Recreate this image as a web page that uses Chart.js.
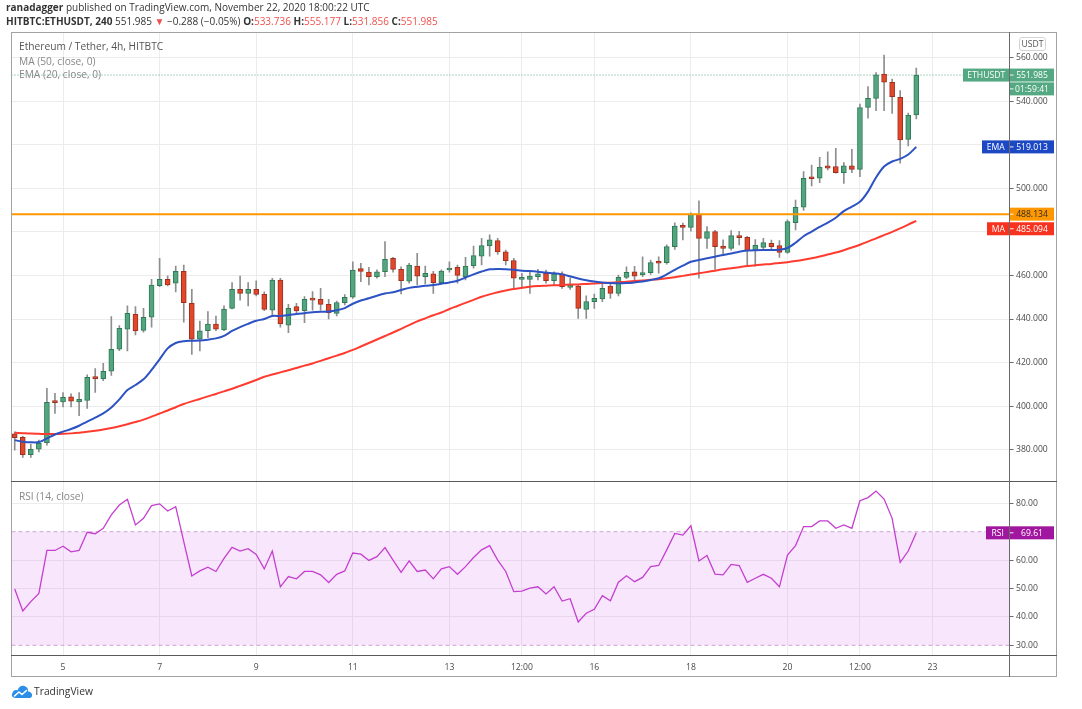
<!DOCTYPE html>
<html><head><meta charset="utf-8">
<script src="https://cdn.jsdelivr.net/npm/chart.js@4.4.1/dist/chart.umd.min.js"></script>
<style>
html,body{margin:0;padding:0;background:#fff;}
body{width:1082px;height:709px;position:relative;overflow:hidden;font-family:"Open Sans",sans-serif;}
.abs{position:absolute;white-space:nowrap;}
#cmain{position:absolute;left:0;top:0;width:1082px;height:482px;}
#crsi{position:absolute;left:0;top:481px;width:1082px;height:228px;}
.hdr{font-size:10px;color:#333;line-height:14px;left:6px;}
.red{color:#f0524f;}
.leg{font-size:10.2px;line-height:14px;left:19px;}
.line{position:absolute;pointer-events:none;}
</style>
</head><body>
<div id="cmain"><canvas id="main"></canvas></div>
<div id="crsi"><canvas id="rsi"></canvas></div>

<div class="line" style="left:11px;top:32px;width:1046px;height:645px;border:1px solid #a2a2a2;box-sizing:border-box;"></div>
<div class="line" style="left:11px;top:481px;width:1046px;height:1px;background:#5a5a5a;"></div>
<div class="line" style="left:11px;top:655px;width:1046px;height:1px;background:#5a5a5a;"></div>
<div class="line" style="left:1009px;top:32px;width:1px;height:645px;background:#6a6a6a;"></div>

<div class="abs hdr" style="top:0px;"><b>ranadagger</b> published on TradingView.com, November 22, 2020 18:00:22 UTC</div>
<div class="abs hdr" id="hdr2" style="top:14px;"></div>

<div class="abs leg" style="top:39px;color:#555;">Ethereum / Tether, 4h, HITBTC</div>
<div class="abs leg" style="top:53.5px;color:#888;">MA (50, close, 0)</div>
<div class="abs leg" style="top:66.5px;color:#888;">EMA (20, close, 0)</div>
<div class="abs leg" style="top:488.5px;color:#888;">RSI (14, close)</div>

<div class="abs" style="left:1019px;top:37px;width:27px;height:14px;border:1px solid #d4d4d4;border-radius:3px;box-sizing:border-box;font-size:8.6px;line-height:12px;color:#555;text-align:center;">USDT</div>

<svg class="abs" style="left:11px;top:684px;" width="22" height="15" viewBox="0 0 22 15">
<path d="M5 14 C1 14 0 11 1.5 9 C2 6.5 4.5 5.5 6.5 6.5 C7.5 3 10.5 1 13.5 2 C16.5 3 17.5 5.5 17 7.5 C20 7.5 21.5 10 21 12 C20.5 13.5 19.5 14 18 14 Z" fill="#2b8fe8"/>
<polyline points="3.5,12 8,8 11,10.5 15.5,6.5" fill="none" stroke="#fff" stroke-width="1.6" stroke-linejoin="round" stroke-linecap="round"/>
</svg>
<div class="abs" style="left:34px;top:684px;font-size:10.3px;line-height:14px;color:#333;">TradingView</div>

<script>
// ---- data ----
const opens  = [387.3,385.7,377.7,380.2,383.2,402.0,401.9,404.3,401.9,402.6,413.5,412.6,416.0,426.1,435.3,442.1,434.8,440.8,455.3,458.2,456.4,461.9,447.2,430.7,434.6,437.7,435.0,444.9,453.6,451.8,453.6,451.3,444.1,457.9,437.2,445.7,443.8,449.5,449.0,446.7,442.6,447.5,450.0,463.1,461.6,459.4,461.7,467.9,462.8,457.4,464.3,459.4,460.7,456.7,462.5,463.7,459.4,464.5,468.9,473.5,476.0,470.8,466.8,458.2,458.2,459.4,461.0,457.6,460.7,454.5,455.1,444.4,448.0,449.2,455.1,451.8,459.1,461.7,460.2,461.3,466.3,465.9,473.2,483.0,482.1,488.2,477.0,480.1,473.5,472.4,478.3,477.5,471.4,472.9,474.7,473.7,470.6,484.2,491.3,504.9,504.6,510.3,510.0,507.2,510.3,508.7,537.1,541.3,552.4,548.7,541.8,522.5,533.736];
const highs  = [388.2,386.2,382.6,384.4,408.2,405.9,406.2,405.6,406.2,414.4,417.2,419.7,441.1,437.0,446.0,445.7,444.9,458.2,467.9,459.8,464.3,464.8,453.6,439.1,443.4,441.4,446.1,456.7,459.7,456.7,457.5,452.5,458.7,458.7,446.7,447.2,450.3,452.6,454.1,449.0,448.2,451.2,466.3,465.6,463.7,462.6,475.5,468.3,464.0,465.6,470.2,464.3,461.9,462.6,466.3,464.8,468.3,473.5,477.0,478.6,477.0,471.7,467.9,461.0,462.2,462.8,462.5,461.7,461.7,458.9,455.6,450.6,451.4,455.9,456.2,460.2,464.0,464.2,468.6,467.1,468.6,474.0,484.2,484.0,488.8,494.3,482.4,480.7,476.3,480.6,480.2,478.0,476.5,477.0,476.2,476.0,485.5,494.6,507.7,510.7,514.2,516.8,518.4,511.8,517.9,538.7,546.7,553.1,561.2,550.2,544.9,534.5,555.177];
const lows   = [379.8,376.5,376.5,379.0,382.1,396.7,399.7,399.7,395.6,399.0,406.3,411.7,414.1,425.5,425.3,432.7,434.0,436.2,454.9,455.2,452.4,438.6,423.8,425.3,431.4,434.6,434.6,444.6,448.7,446.0,450.6,443.8,441.7,436.2,433.7,442.6,438.3,444.1,444.1,440.0,441.4,446.5,449.5,457.1,455.6,458.7,459.4,461.5,451.5,456.4,455.6,456.1,451.8,456.2,461.5,456.4,457.9,463.3,464.8,468.9,469.6,464.8,454.1,454.1,451.8,457.9,456.4,455.6,454.1,453.6,440.3,440.3,444.9,448.0,449.5,450.6,458.5,457.1,459.4,460.5,461.0,465.2,472.0,476.3,480.3,458.7,472.4,462.8,469.4,471.6,474.0,464.5,464.3,471.5,471.4,468.3,470.1,480.9,489.8,501.1,502.6,508.4,506.9,502.3,507.2,505.4,532.2,535.7,535.7,534.4,511.5,519.5,531.856];
const closes = [385.5,377.7,380.2,382.9,401.7,401.6,404.0,402.3,403.1,413.2,412.6,416.0,426.1,435.7,442.6,434.5,440.8,455.6,458.2,455.6,461.9,447.5,430.7,434.6,437.7,435.3,444.6,453.6,451.8,453.6,451.3,444.4,457.9,437.7,444.9,443.7,449.0,448.7,446.7,442.9,447.6,450.0,462.5,461.9,459.4,461.7,467.4,462.8,457.6,464.8,459.7,461.0,456.7,462.0,463.3,460.0,464.3,469.1,473.7,476.3,470.8,466.8,458.7,458.8,459.7,460.7,457.6,460.7,454.8,455.6,444.9,448.0,449.5,454.1,451.8,459.1,461.4,459.7,461.3,465.9,465.6,473.2,482.7,482.1,488.2,477.0,480.1,473.2,472.4,478.3,477.3,471.4,473.8,475.1,473.2,470.6,484.7,491.3,504.6,504.4,509.7,509.3,507.2,510.3,508.7,537.1,541.3,552.1,548.7,542.1,522.2,533.5,551.985];
const ma50   = [387.8,387.6,387.4,387.3,387.2,387.2,387.3,387.5,387.8,388.2,388.7,389.3,390.0,390.8,391.7,392.7,393.8,395.2,396.6,398.0,399.5,401.0,402.2,403.3,404.5,405.6,406.8,408.0,409.3,410.6,412.0,413.5,414.5,415.5,416.5,417.5,418.6,419.6,420.8,422.0,423.2,424.4,425.8,427.4,429.0,430.6,432.2,433.8,435.5,437.2,438.9,440.3,441.7,443.0,444.6,446.0,447.4,448.8,450.2,451.3,452.3,453.1,453.8,454.3,454.8,455.1,455.3,455.5,455.6,455.8,455.9,456.1,456.3,456.5,456.7,456.9,457.1,457.4,457.7,458.0,458.3,458.7,459.2,459.8,460.4,461.0,461.6,462.2,462.8,463.3,463.8,464.3,464.7,465.0,465.3,465.7,466.1,466.6,467.2,467.9,468.7,469.6,470.5,471.6,472.8,474.1,475.5,477.0,478.5,480.0,481.6,483.3,485.094];
const ema20  = [384.4,383.7,383.4,383.5,385.2,387.0,388.3,389.5,391.0,392.9,394.7,396.7,399.4,403.1,407.4,409.7,412.3,416.6,421.5,426.5,429.0,429.8,430.0,430.1,430.5,431.1,432.3,434.5,436.3,437.8,439.2,440.0,441.4,441.4,441.8,442.3,442.7,443.1,443.3,443.4,444.0,445.0,447.0,448.5,449.5,450.7,451.7,452.3,453.3,454.3,454.8,455.3,455.6,456.2,456.8,457.6,459.0,460.5,461.8,462.8,463.0,462.9,462.6,462.2,462.0,461.7,461.3,461.0,460.5,459.6,458.6,457.8,457.2,456.8,456.5,456.4,456.5,456.8,457.2,457.9,458.7,460.5,462.6,464.5,466.3,467.1,467.9,468.6,469.4,470.1,470.9,471.4,471.6,471.7,471.7,471.8,472.6,475.0,478.0,480.1,482.3,484.2,486.5,489.5,491.6,493.8,498.5,505.0,510.0,512.3,513.5,515.5,519.013];
const rsi14  = [49.8,42.1,45.4,48.3,63.4,63.4,64.9,62.9,63.4,69.8,69.3,71.2,75.9,79.4,81.4,72.4,74.7,79.2,79.8,77.3,78.8,66.5,54.4,56.2,57.5,56.0,60.6,64.5,63.2,64.0,62.0,56.9,63.2,50.6,54.2,53.4,56.0,56.0,54.8,52.1,55.0,56.2,62.5,62.1,59.9,61.2,64.4,60.0,55.7,59.7,56.0,56.5,53.4,56.9,57.7,55.0,57.7,60.9,63.6,65.1,60.0,56.0,48.9,49.1,50.1,50.6,48.1,50.6,45.6,46.4,38.2,41.3,42.7,47.5,45.7,52.2,54.5,52.4,53.9,57.7,58.1,63.6,69.4,68.8,72.1,59.7,61.6,55.1,54.8,58.5,58.1,52.2,53.6,55.0,53.6,50.6,61.8,65.1,71.8,71.8,73.8,73.8,71.2,72.4,71.2,80.9,82.0,84.3,81.5,74.7,59.2,63.2,69.61];
const xTickIdx    = [6,18,30,42,54,63,72,84,96,105,114];
const xTickLabels = ['5','7','9','11','13','12:00','16','18','20','12:00','23'];
const priceTicks  = [380,400,420,440,460,480,500,520,540,560];
const rsiTicks    = [30,40,50,60,70,80];
const levelPrice  = 488.134;
const rsiUpper = 70, rsiLower = 30;
const symbol = 'ETHUSDT';
const countdown = '01:59:41';
const changeText = '\u22120.288 (\u22120.05%)';

// ---- derived ----
const N = closes.length, L = N - 1;
const xMin = -0.4, xMax = 123.58;
const FONT = "'Open Sans', sans-serif";
Chart.defaults.font.family = FONT;
const fmt3 = v => v.toFixed(3);

document.getElementById('hdr2').innerHTML =
  '<b>HITBTC:' + symbol + ', 240</b> ' + fmt3(closes[L]) + ' <span class="red">\u25BC</span> ' + changeText +
  ' <b>O:</b><span class="red">' + fmt3(opens[L]) + '</span> <b>H:</b><span class="red">' + fmt3(highs[L]) +
  '</span> <b>L:</b><span class="red">' + fmt3(lows[L]) + '</span> <b>C:</b><span class="red">' + fmt3(closes[L]) + '</span>';

const UP = '#53a57f', UPB = '#2f7a56', DN = '#e0472b', DNB = '#9e2f1c';
const bodies = closes.map((c, i) => ({x: i, y: [opens[i], c]}));
const wicks  = closes.map((c, i) => ({x: i, y: [lows[i], highs[i]]}));
const fills  = closes.map((c, i) => c >= opens[i] ? UP : DN);
const edges  = closes.map((c, i) => c >= opens[i] ? UPB : DNB);

function drawBox(ctx, ax, yc, leftText, leftW, text, bg, fg) {
  const h = 13, right = ax + 44.5;
  ctx.save();
  ctx.fillStyle = bg;
  ctx.fillRect(ax - leftW, yc - h / 2, right - (ax - leftW), h);
  ctx.strokeStyle = 'rgba(255,255,255,0.9)';
  ctx.lineWidth = 1;
  ctx.beginPath(); ctx.moveTo(ax + 0.5, yc); ctx.lineTo(ax + 4, yc); ctx.stroke();
  ctx.fillStyle = fg;
  ctx.font = '8.6px ' + FONT;
  ctx.textBaseline = 'middle';
  ctx.textAlign = 'center';
  if (leftText) ctx.fillText(leftText, ax - leftW / 2, yc + 0.5);
  ctx.fillText(text, ax + 22.5, yc + 0.5);
  ctx.restore();
  return {top: yc - h / 2, bottom: yc + h / 2};
}

const mainLabels = {
  id: 'mainLabels',
  afterDraw(chart) {
    const ctx = chart.ctx, y = chart.scales.y, ax = chart.chartArea.right;
    const lc = closes[L];
    const b1 = drawBox(ctx, ax, y.getPixelForValue(lc), symbol, 46.5, fmt3(lc), '#54a982', '#fff');
    drawBox(ctx, ax, b1.bottom + 0.8 + 6.5, '', 0, countdown, '#54a982', '#fff');
    drawBox(ctx, ax, y.getPixelForValue(ema20[L]), 'EMA', 27.5, fmt3(ema20[L]), '#1c48c4', '#fff');
    const bl = drawBox(ctx, ax, y.getPixelForValue(levelPrice), '', 0, fmt3(levelPrice), '#ff9800', '#2a2a2a');
    const ym = Math.max(y.getPixelForValue(ma50[L]), bl.bottom + 1.6 + 6.5);
    drawBox(ctx, ax, ym, 'MA', 22.5, fmt3(ma50[L]), '#f7321f', '#fff');
  }
};
const rsiLabels = {
  id: 'rsiLabels',
  afterDraw(chart) {
    const ctx = chart.ctx, y = chart.scales.y, ax = chart.chartArea.right;
    drawBox(ctx, ax, y.getPixelForValue(rsi14[L]), 'RSI', 23.5, rsi14[L].toFixed(2), '#a1169f', '#fff');
  }
};

const gridCol = '#ececec';
const tickFont = {family: FONT, size: 8.6};
const noPad = s => { s.paddingTop = 0; s.paddingBottom = 0; s.paddingLeft = 0; s.paddingRight = 0; };

new Chart(document.getElementById('main'), {
  type: 'bar',
  data: {datasets: [
    {type: 'line', label: 'EMA (20)', data: ema20.map((v, i) => ({x: i, y: v})), borderColor: '#2c52c4', borderWidth: 2, pointRadius: 0, tension: 0.3, order: 0},
    {type: 'line', label: 'MA (50)', data: ma50.map((v, i) => ({x: i, y: v})), borderColor: '#ff3b2f', borderWidth: 2, pointRadius: 0, tension: 0.3, order: 0},
    {type: 'line', label: 'Level', data: [{x: xMin, y: levelPrice}, {x: xMax, y: levelPrice}], borderColor: '#ff9800', borderWidth: 2, pointRadius: 0, order: 0},
    {type: 'line', label: 'Last', data: [{x: xMin, y: closes[L]}, {x: xMax, y: closes[L]}], borderColor: '#55a988', borderWidth: 1, borderDash: [1, 2], pointRadius: 0, order: 3},
    {label: 'Body', data: bodies, backgroundColor: fills, borderColor: edges, borderWidth: 1, borderSkipped: false, barThickness: 5, minBarLength: 2, grouped: false, order: 1},
    {label: 'Wick', data: wicks, backgroundColor: '#8e8e8e', barThickness: 1, grouped: false, order: 2}
  ]},
  options: {
    responsive: true, maintainAspectRatio: false, animation: false,
    layout: {padding: {left: 11.5, top: 33, right: 25, bottom: 0.7}},
    plugins: {legend: {display: false}, tooltip: {enabled: false}},
    scales: {
      x: {type: 'linear', min: xMin, max: xMax, offset: false,
          grid: {color: gridCol, drawTicks: false, offset: false}, border: {display: false},
          ticks: {display: false},
          afterBuildTicks: s => { s.ticks = xTickIdx.map(v => ({value: v})); },
          afterFit: s => { s.height = 0; noPad(s); }},
      y: {type: 'linear', position: 'right', min: 365.5, max: 571.3,
          grid: {color: gridCol, tickLength: 4, tickColor: '#6a6a6a'}, border: {color: '#6a6a6a'},
          ticks: {color: '#4a4a4a', font: tickFont, padding: 2.5,
                  callback: v => (v === 480 || v === 520) ? '' : v.toFixed(3)},
          afterBuildTicks: s => { s.ticks = priceTicks.map(v => ({value: v})); },
          afterFit: s => { s.width = 47.5; noPad(s); }}
    }
  },
  plugins: [mainLabels]
});

new Chart(document.getElementById('rsi'), {
  type: 'line',
  data: {datasets: [
    {label: 'RSI (14)', data: rsi14.map((v, i) => ({x: i, y: v})), borderColor: '#c43fcf', borderWidth: 1.3, pointRadius: 0, tension: 0, order: 0},
    {label: 'Upper', data: [{x: xMin, y: rsiUpper}, {x: xMax, y: rsiUpper}], borderColor: '#cda6d3', borderWidth: 1, borderDash: [4, 3], pointRadius: 0, fill: '+1', backgroundColor: 'rgba(215,110,235,0.17)', order: 1},
    {label: 'Lower', data: [{x: xMin, y: rsiLower}, {x: xMax, y: rsiLower}], borderColor: '#cda6d3', borderWidth: 1, borderDash: [4, 3], pointRadius: 0, fill: false, order: 2}
  ]},
  options: {
    responsive: true, maintainAspectRatio: false, animation: false,
    layout: {padding: {left: 11.5, top: 0.3, right: 25, bottom: 32.3}},
    plugins: {legend: {display: false}, tooltip: {enabled: false}},
    scales: {
      x: {type: 'linear', min: xMin, max: xMax, offset: false,
          grid: {color: gridCol, drawTicks: false, offset: false}, border: {display: false},
          ticks: {color: '#4a4a4a', font: tickFont, padding: 7.5, autoSkip: false, maxRotation: 0,
                  callback: (v, i) => xTickLabels[i]},
          afterBuildTicks: s => { s.ticks = xTickIdx.map(v => ({value: v})); },
          afterFit: s => { s.height = 21.4; noPad(s); }},
      y: {type: 'linear', position: 'right', min: 26.48, max: 87.75,
          grid: {color: c => (c.tick && (c.tick.value === rsiUpper || c.tick.value === rsiLower)) ? 'rgba(0,0,0,0)' : gridCol, tickLength: 4, tickColor: '#6a6a6a'},
          border: {color: '#6a6a6a'},
          ticks: {color: '#4a4a4a', font: tickFont, padding: 2.5,
                  callback: v => v === rsiUpper ? '' : v.toFixed(2)},
          afterBuildTicks: s => { s.ticks = rsiTicks.map(v => ({value: v})); },
          afterFit: s => { s.width = 47.5; noPad(s); }}
    }
  },
  plugins: [rsiLabels]
});
</script>
</body></html>
